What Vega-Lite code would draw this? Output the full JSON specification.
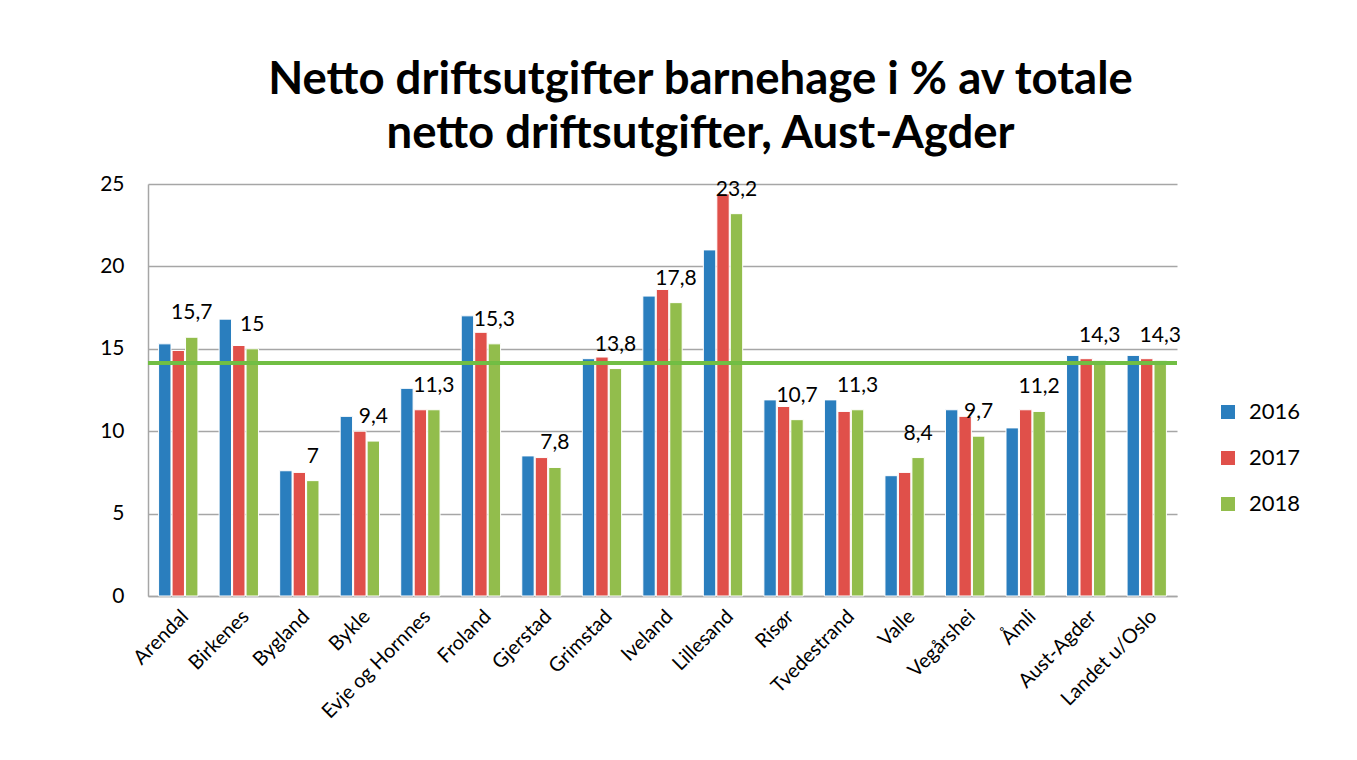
{
  "$schema": "https://vega.github.io/schema/vega-lite/v6.json",
  "width": 1029,
  "height": 412,
  "autosize": {"type": "none"},
  "padding": {"left": 148, "top": 184, "right": 180, "bottom": 164},
  "background": "white",
  "config": {
    "font": "Lato",
    "locale": {"number": {"decimal": ",", "thousands": " ", "grouping": [3], "currency": ["", " kr"]}},
    "view": {"stroke": null},
    "axis": {"labelFont": "Lato", "labelColor": "#000000"}
  },
  "title": {
    "text": ["Netto driftsutgifter barnehage i % av totale", "netto driftsutgifter, Aust-Agder"],
    "font": "Lato",
    "fontSize": 45.5,
    "fontWeight": "bold",
    "color": "#000000",
    "lineHeight": 54,
    "anchor": "middle",
    "dx": 38,
    "offset": 16
  },
  "data": {
    "values": [
      {"kommune": "Arendal", "aar": "2016", "verdi": 15.3},
      {"kommune": "Arendal", "aar": "2017", "verdi": 14.9},
      {"kommune": "Arendal", "aar": "2018", "verdi": 15.7},
      {"kommune": "Birkenes", "aar": "2016", "verdi": 16.8},
      {"kommune": "Birkenes", "aar": "2017", "verdi": 15.2},
      {"kommune": "Birkenes", "aar": "2018", "verdi": 15.0},
      {"kommune": "Bygland", "aar": "2016", "verdi": 7.6},
      {"kommune": "Bygland", "aar": "2017", "verdi": 7.5},
      {"kommune": "Bygland", "aar": "2018", "verdi": 7.0},
      {"kommune": "Bykle", "aar": "2016", "verdi": 10.9},
      {"kommune": "Bykle", "aar": "2017", "verdi": 10.0},
      {"kommune": "Bykle", "aar": "2018", "verdi": 9.4},
      {"kommune": "Evje og Hornnes", "aar": "2016", "verdi": 12.6},
      {"kommune": "Evje og Hornnes", "aar": "2017", "verdi": 11.3},
      {"kommune": "Evje og Hornnes", "aar": "2018", "verdi": 11.3},
      {"kommune": "Froland", "aar": "2016", "verdi": 17.0},
      {"kommune": "Froland", "aar": "2017", "verdi": 16.0},
      {"kommune": "Froland", "aar": "2018", "verdi": 15.3},
      {"kommune": "Gjerstad", "aar": "2016", "verdi": 8.5},
      {"kommune": "Gjerstad", "aar": "2017", "verdi": 8.4},
      {"kommune": "Gjerstad", "aar": "2018", "verdi": 7.8},
      {"kommune": "Grimstad", "aar": "2016", "verdi": 14.4},
      {"kommune": "Grimstad", "aar": "2017", "verdi": 14.5},
      {"kommune": "Grimstad", "aar": "2018", "verdi": 13.8},
      {"kommune": "Iveland", "aar": "2016", "verdi": 18.2},
      {"kommune": "Iveland", "aar": "2017", "verdi": 18.6},
      {"kommune": "Iveland", "aar": "2018", "verdi": 17.8},
      {"kommune": "Lillesand", "aar": "2016", "verdi": 21.0},
      {"kommune": "Lillesand", "aar": "2017", "verdi": 24.4},
      {"kommune": "Lillesand", "aar": "2018", "verdi": 23.2},
      {"kommune": "Risør", "aar": "2016", "verdi": 11.9},
      {"kommune": "Risør", "aar": "2017", "verdi": 11.5},
      {"kommune": "Risør", "aar": "2018", "verdi": 10.7},
      {"kommune": "Tvedestrand", "aar": "2016", "verdi": 11.9},
      {"kommune": "Tvedestrand", "aar": "2017", "verdi": 11.2},
      {"kommune": "Tvedestrand", "aar": "2018", "verdi": 11.3},
      {"kommune": "Valle", "aar": "2016", "verdi": 7.3},
      {"kommune": "Valle", "aar": "2017", "verdi": 7.5},
      {"kommune": "Valle", "aar": "2018", "verdi": 8.4},
      {"kommune": "Vegårshei", "aar": "2016", "verdi": 11.3},
      {"kommune": "Vegårshei", "aar": "2017", "verdi": 10.9},
      {"kommune": "Vegårshei", "aar": "2018", "verdi": 9.7},
      {"kommune": "Åmli", "aar": "2016", "verdi": 10.2},
      {"kommune": "Åmli", "aar": "2017", "verdi": 11.3},
      {"kommune": "Åmli", "aar": "2018", "verdi": 11.2},
      {"kommune": "Aust-Agder", "aar": "2016", "verdi": 14.6},
      {"kommune": "Aust-Agder", "aar": "2017", "verdi": 14.4},
      {"kommune": "Aust-Agder", "aar": "2018", "verdi": 14.3},
      {"kommune": "Landet u/Oslo", "aar": "2016", "verdi": 14.6},
      {"kommune": "Landet u/Oslo", "aar": "2017", "verdi": 14.4},
      {"kommune": "Landet u/Oslo", "aar": "2018", "verdi": 14.3}
    ]
  },
  "encoding": {
    "x": {
      "field": "kommune",
      "type": "nominal",
      "sort": null,
      "scale": {"paddingInner": 0.35, "paddingOuter": 0.175},
      "axis": {
        "title": null,
        "labelAngle": -45,
        "labelAlign": "right",
        "labelBaseline": "top",
        "labelFontSize": 20,
        "labelPadding": 10,
        "ticks": false,
        "domainColor": "#a6a6a6",
        "domainWidth": 1.5,
        "grid": false
      }
    },
    "xOffset": {"field": "aar", "type": "nominal", "scale": {"paddingInner": 0.08, "paddingOuter": 0}},
    "y": {
      "field": "verdi",
      "type": "quantitative",
      "scale": {"domain": [0, 25], "nice": false},
      "axis": {
        "title": null,
        "values": [0, 5, 10, 15, 20, 25],
        "labelFontSize": 21,
        "labelPadding": 24,
        "ticks": false,
        "domainColor": "#a6a6a6",
        "domainWidth": 1.5,
        "gridColor": "#a6a6a6",
        "gridWidth": 1.5
      }
    }
  },
  "layer": [
    {
      "mark": {"type": "bar", "stroke": "white", "strokeWidth": 1},
      "encoding": {
        "color": {
          "field": "aar",
          "type": "nominal",
          "scale": {"domain": ["2016", "2017", "2018"], "range": ["#2A7EBE", "#E0504A", "#92BD4C"]},
          "legend": {
            "title": null,
            "orient": "none",
            "legendX": 1069,
            "legendY": 217,
            "symbolType": "square",
            "symbolSize": 196,
            "symbolStrokeWidth": 0,
            "labelFontSize": 22,
            "labelOffset": 10,
            "rowPadding": 24,
            "padding": 0
          }
        }
      }
    },
    {
      "transform": [{"filter": "datum.aar === '2018'"}],
      "mark": {"type": "text", "baseline": "alphabetic", "dy": -18, "fontSize": 21, "color": "#000000"},
      "encoding": {
        "text": {"field": "verdi", "type": "quantitative", "format": ".1~f"}
      }
    },
    {
      "mark": {"type": "rule", "color": "#72BE44", "strokeWidth": 3},
      "encoding": {"y": {"datum": 14.15}, "x": null, "xOffset": null}
    }
  ]
}
